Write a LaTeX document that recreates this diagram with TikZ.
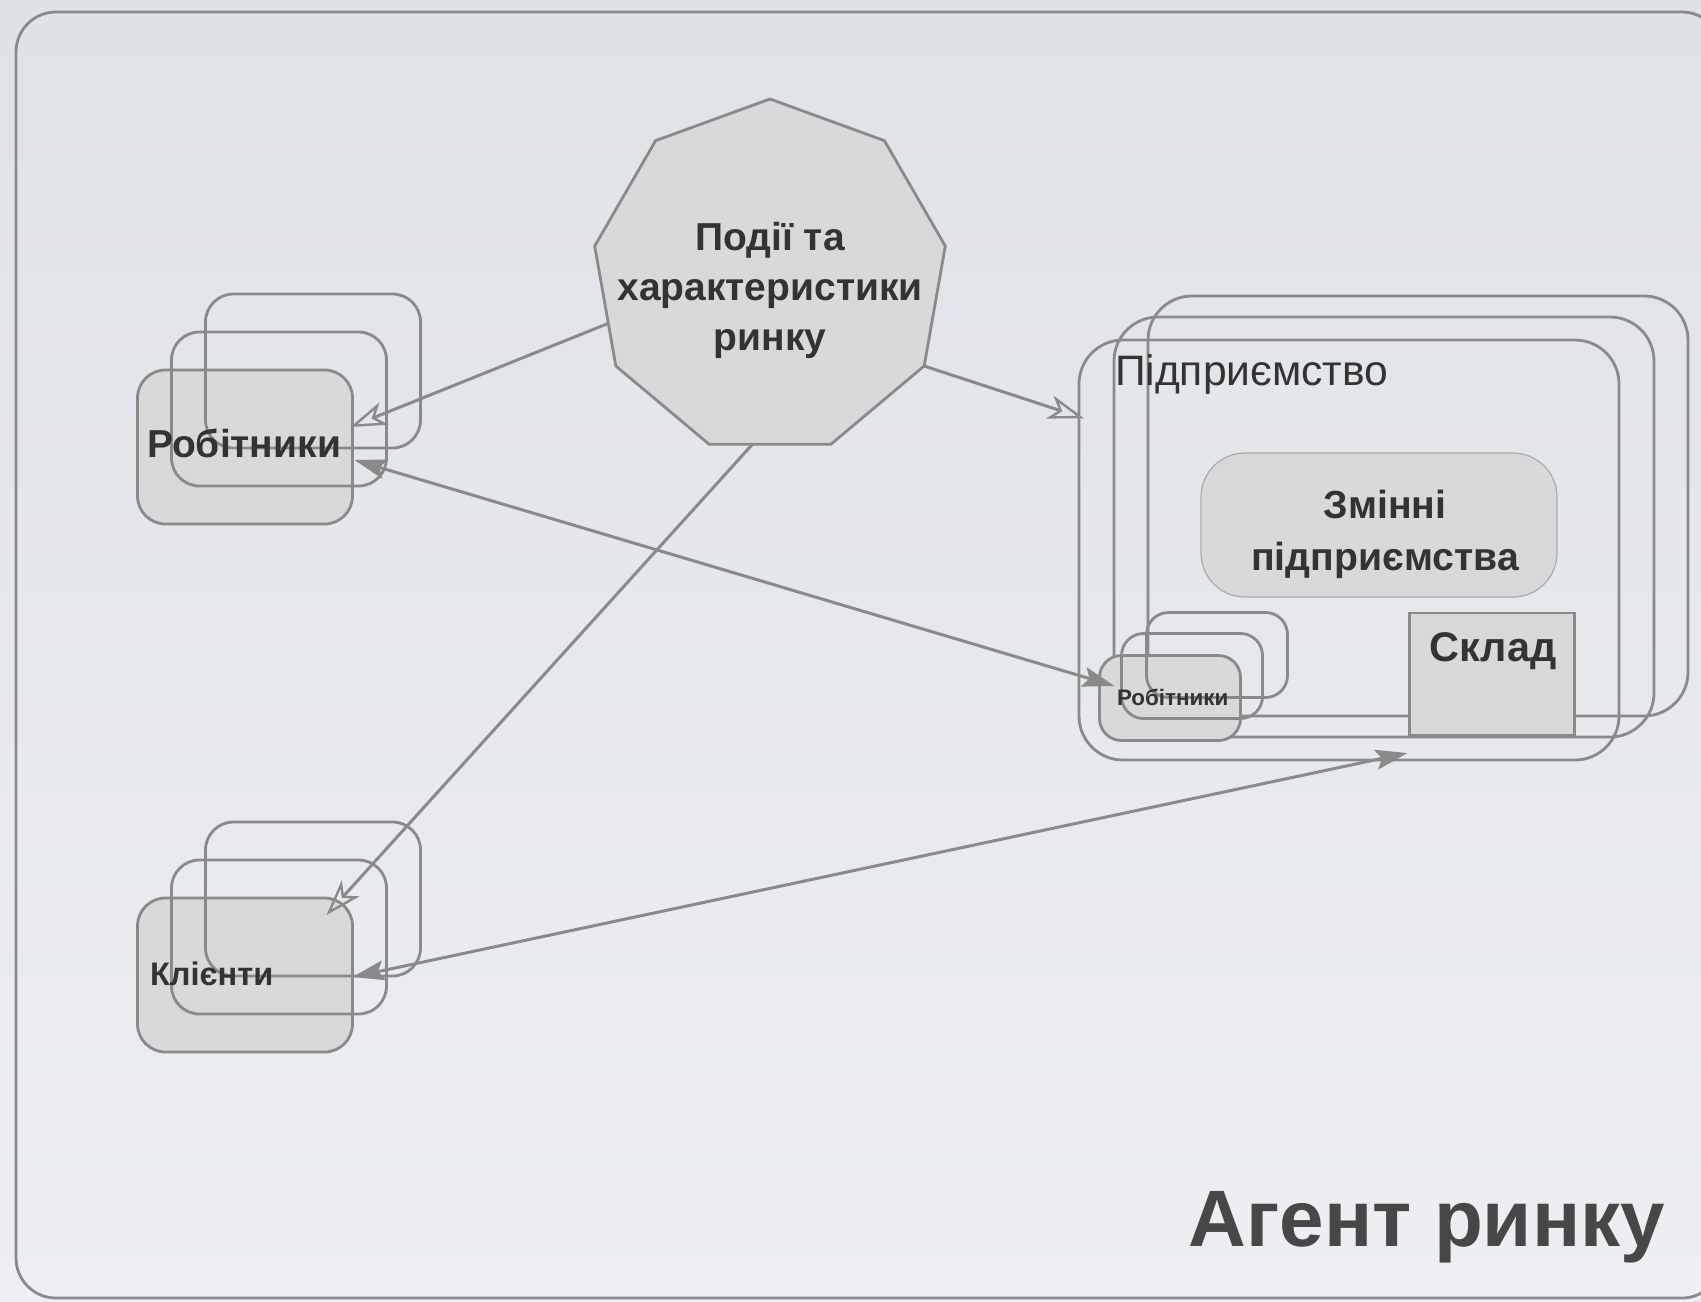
\documentclass[tikz,border=0pt]{standalone}
\usepackage{fontspec}
\setmainfont{Liberation Sans}
\usetikzlibrary{shapes.geometric, arrows.meta, calc}
\definecolor{ln}{HTML}{8A8A8A}
\definecolor{lnl}{HTML}{ABABAB}
\definecolor{fl}{HTML}{D9D9D9}
\definecolor{tx}{HTML}{333333}
\definecolor{bgtop}{HTML}{DFE2E6}
\definecolor{bgbot}{HTML}{EDEFF2}
\begin{document}
\begin{tikzpicture}[x=0.5pt, y=-0.5pt,
  every node/.style={inner sep=0pt, outer sep=0pt, text=tx},
  ubox/.style={draw=ln, line width=1.4pt, rounded corners=14pt, minimum width=107.5pt, minimum height=77pt},
  ebox/.style={draw=ln, line width=1.4pt, rounded corners=22pt, minimum width=270pt, minimum height=210pt},
  sbox/.style={draw=ln, line width=1.4pt, rounded corners=11pt, minimum width=70.5pt, minimum height=42.5pt},
  conn/.style={draw=ln, line width=1.5pt},
  ohead/.style={-{Stealth[open, length=18pt, width=12pt, inset=5pt, line width=1.2pt]}},
  bhead/.style={{Stealth[length=16pt, width=10pt, inset=3pt]}-{Stealth[length=16pt, width=10pt, inset=3pt]}},
  blbl/.style={font=\bfseries\fontsize{19.5}{25}\selectfont}
]
\fill[top color=bgtop, bottom color=bgbot] (0,0) rectangle (1701,1301);
\useasboundingbox (0,0) rectangle (1701,1301);
\clip (0,0) rectangle (1701,1301);
\draw[draw=ln, line width=1.4pt, rounded corners=20pt] (16,12) rectangle (1722,1298);

% events polygon
\node[regular polygon, regular polygon sides=9, minimum size=178pt, draw=ln, line width=1.4pt, fill=fl] (ev) at (770,277) {};
\node[blbl, align=center] (evt) at (770,290) {Події та\\характеристики\\ринку};

% workers (left)
\node[ubox, fill=fl] (rb1) at (245,447) {};
\node[ubox] (rb2) at (279,409) {};
\node[ubox] (rb3) at (313,371) {};
\node[blbl, anchor=west] (rbt) at (147,443) {Робітники};

% clients
\node[ubox, fill=fl] (cl1) at (245,975) {};
\node[ubox] (cl2) at (279,937) {};
\node[ubox] (cl3) at (313,899) {};
\node[font=\bfseries\fontsize{16.3}{19}\selectfont, anchor=west] (clt) at (150,974) {Клієнти};

% enterprise
\node[ebox] (ea) at (1349,550) {};
\node[ebox] (eb) at (1384,527) {};
\node[ebox] (ec) at (1418,506) {};
\node[font=\fontsize{21.3}{25}\selectfont, anchor=west] (eat) at (1115,374) {Підприємство};

\node[draw=lnl, line width=0.6pt, fill=fl, rounded corners=22pt, minimum width=178pt, minimum height=72pt] (zm) at (1379,525) {};
\node[font=\bfseries\fontsize{19.6}{26}\selectfont, align=center] (zmt) at (1385,534) {Змінні\\підприємства};

\node[draw=ln, line width=1.4pt, fill=fl, minimum width=82.5pt, minimum height=61pt] (sk) at (1492,674) {};
\node[font=\bfseries\fontsize{20.7}{24}\selectfont] (skt) at (1493,651) {Склад};

% small workers
\node[sbox, fill=fl] (sw1) at (1170,698) {};
\node[sbox] (sw2) at (1192,676) {};
\node[sbox] (sw3) at (1217,655) {};
\node[font=\bfseries\fontsize{11.2}{13}\selectfont, anchor=west] (swt) at (1117,697) {Робітники};

% connectors
\draw[conn, ohead] (ev.196) -- ([shift={(-2,-20)}]rb1.east);
\draw[conn, ohead] (ev.-30) -- ([shift={(5,0)}]ea.154);
\draw[conn, ohead] (ev.-96) -- ([shift={(-26,17)}]cl1.north east);
\draw[conn, bhead] ([shift={(2,13)}]rb1.east) -- ([shift={(15,-12)}]sw1.west);
\draw[conn, bhead] ([shift={(0,2)}]cl1.east) -- ([shift={(-2,18)}]sk.south west);

% title
\node[font=\bfseries\fontsize{40}{48}\selectfont, text=black!72, anchor=base east] (title) at (1665,1246) {Агент ринку};
\end{tikzpicture}
\end{document}
